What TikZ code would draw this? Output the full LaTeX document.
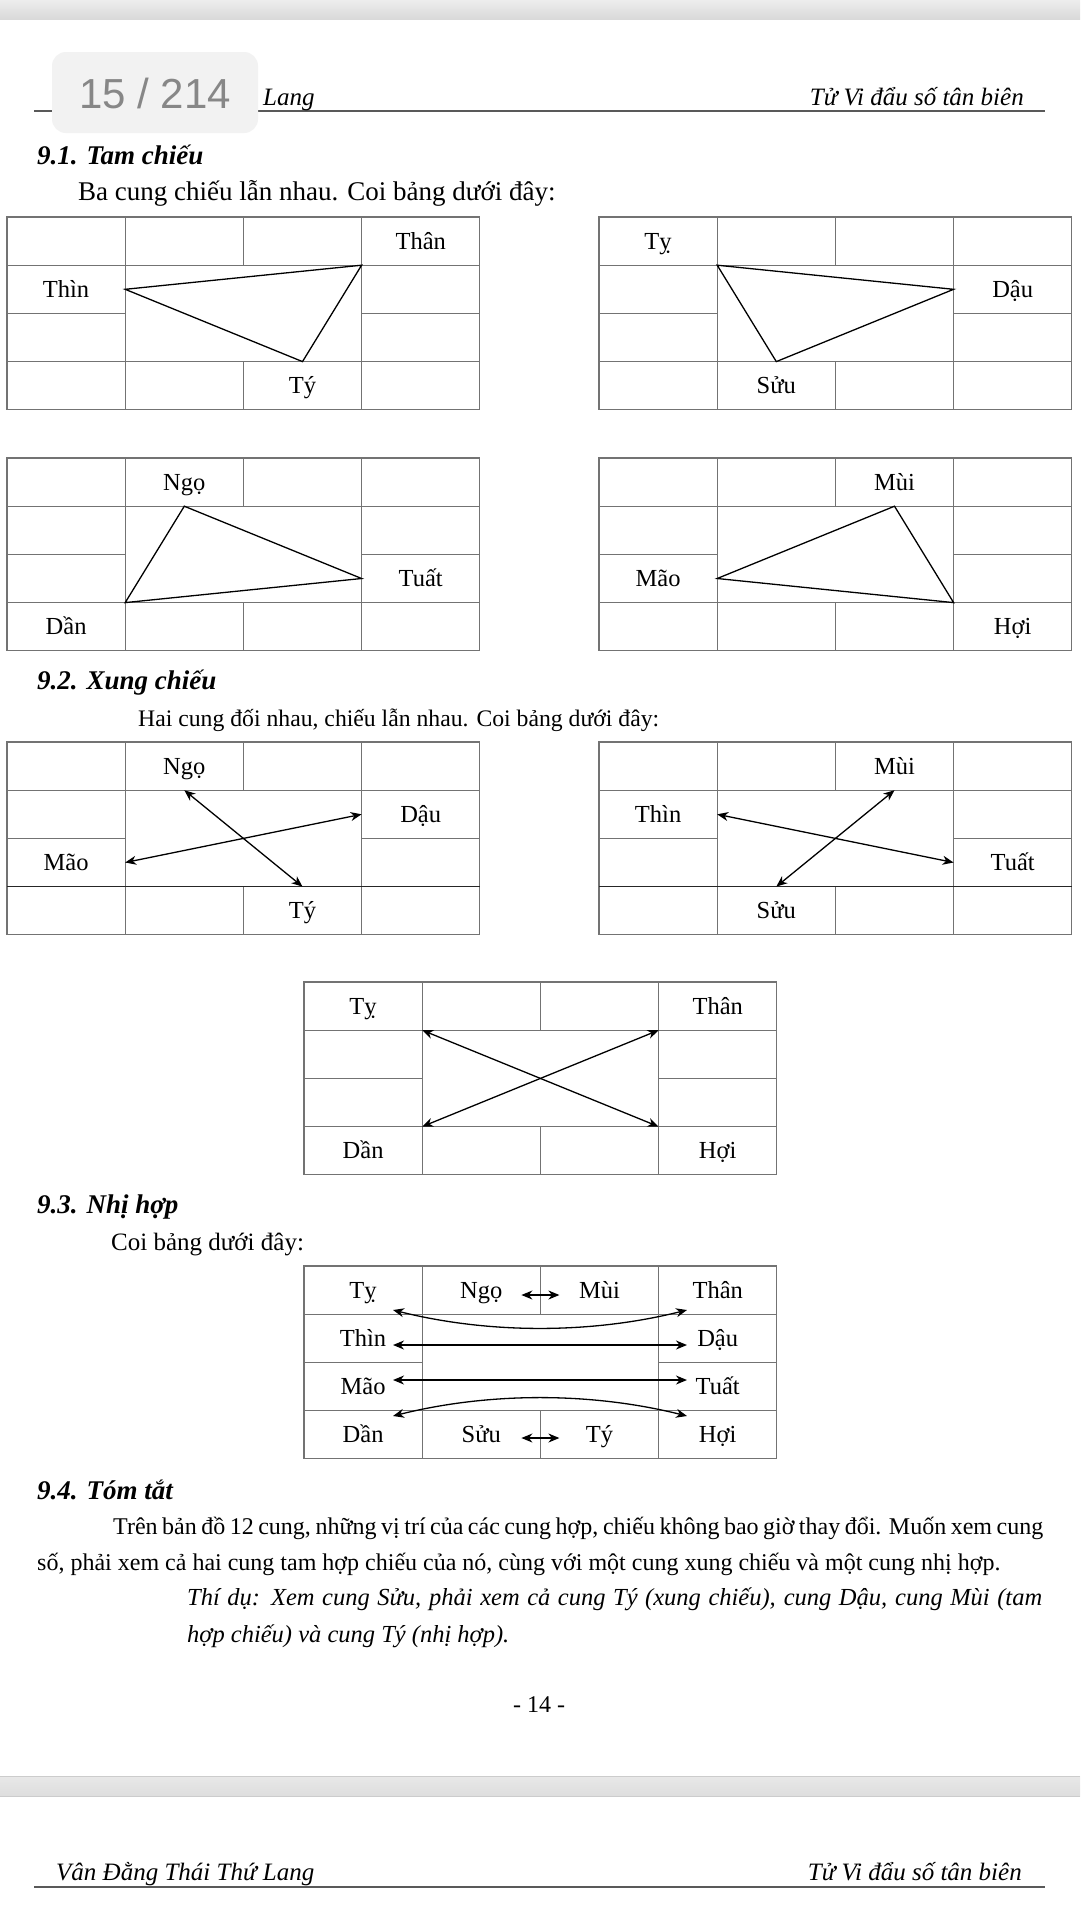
\documentclass[tikz,border=0pt]{standalone}
\usepackage{fontspec}
\setmainfont{Liberation Serif}
\newfontfamily\badgefont{Liberation Sans}
\usetikzlibrary{arrows.meta}
\newcommand{\palace}[4]{%
\begin{scope}[shift={(#1,#2)}]
 \def\cw{118.2}\def\rh{48.2}
 \draw[gridline] (0,0) rectangle ({4*\cw},{4*\rh});
 \draw[gridline] (0,\rh) -- ({4*\cw},\rh) (0,{3*\rh}) -- ({4*\cw},{3*\rh})
   (\cw,0) -- (\cw,{4*\rh}) ({3*\cw},0) -- ({3*\cw},{4*\rh})
   (0,{2*\rh}) -- (\cw,{2*\rh}) ({3*\cw},{2*\rh}) -- ({4*\cw},{2*\rh})
   ({2*\cw},0) -- ({2*\cw},\rh) ({2*\cw},{3*\rh}) -- ({2*\cw},{4*\rh});
 \foreach \r in {1,...,4}{\foreach \c in {1,...,4}{\coordinate (#3-\r\c) at ({(\c-0.5)*\cw},{(\r-0.5)*\rh});}}
 #4
\end{scope}}
\begin{document}
\begin{tikzpicture}[x=1pt,y=-1pt,
  gridline/.style={draw=black!55, line width=1.3pt},
  tri/.style={draw=black, line width=1.3pt, line join=miter},
  dbl/.style={draw=black, line width=1.3pt, {Stealth[length=11pt,width=9pt,inset=3.5pt]}-{Stealth[length=11pt,width=9pt,inset=3.5pt]}},
  lbl/.style={font=\fontsize{24.5}{27}\selectfont, inner sep=0pt, text height=16pt, text depth=0pt},
  body/.style={font=\fontsize{24}{28}\selectfont, inner sep=0pt, anchor=base west},
  head/.style={font=\fontsize{27}{31}\selectfont\bfseries\itshape, inner sep=0pt, anchor=base west},
  pagehead/.style={font=\fontsize{25}{28}\selectfont\itshape, inner sep=0pt},
]
\useasboundingbox (0,0) rectangle (1080,1920);
\fill[white] (0,0) rectangle (1080,1920);
% top and bottom grey bands
\shade[top color=black!7, bottom color=black!15] (0,0) rectangle (1080,19);
\shade[top color=black!9, bottom color=black!13] (0,1776) rectangle (1080,1796);
\draw[black!20, line width=0.8pt] (0,1776) -- (1080,1776) (0,1796) -- (1080,1796);
% header
\draw[black!65, line width=1.6pt] (34,111) -- (1045,111);
\node[pagehead, anchor=base west] (hl) at (263,105) {Lang};
\node[pagehead, anchor=base east] (hr) at (1024,105) {Tử Vi đẩu số tân biên};
\fill[black!5, rounded corners=14pt] (52,52) rectangle (258,133);
\node[font=\badgefont\fontsize{42}{46}\selectfont, text=black!47, anchor=base] (badge) at (155,108) {15 / 214};
% 9.1
\node[head] (h1) at (37,164) {9.1. Tam chiếu};
\node[body, font=\fontsize{27}{31}\selectfont] (t1) at (78,200) {Ba cung chiếu lẫn nhau. Coi bảng dưới đây:};
\palace{7}{217}{A}{
 \node[lbl] (A-than) at (A-14) {Thân};
 \node[lbl] (A-thin) at (A-21) {Thìn};
 \node[lbl] (A-ty) at (A-43) {Tý};
 \coordinate (A-p) at (\cw,{1.5*\rh});
 \coordinate (A-q) at ({3*\cw},\rh);
 \coordinate (A-s) at ({2.5*\cw},{3*\rh});
 \draw[tri] (A-p) -- (A-q) -- (A-s) -- cycle;
}
\palace{599}{217}{B}{
 \node[lbl] (B-ty) at (B-11) {Tỵ};
 \node[lbl] (B-dau) at (B-24) {Dậu};
 \node[lbl] (B-suu) at (B-42) {Sửu};
 \coordinate (B-p) at (\cw,\rh);
 \coordinate (B-q) at ({3*\cw},{1.5*\rh});
 \coordinate (B-s) at ({1.5*\cw},{3*\rh});
 \draw[tri] (B-p) -- (B-q) -- (B-s) -- cycle;
}
\palace{7}{458}{C}{
 \node[lbl] (C-ngo) at (C-12) {Ngọ};
 \node[lbl] (C-tuat) at (C-34) {Tuất};
 \node[lbl] (C-dan) at (C-41) {Dần};
 \coordinate (C-p) at ({1.5*\cw},\rh);
 \coordinate (C-q) at ({3*\cw},{2.5*\rh});
 \coordinate (C-s) at (\cw,{3*\rh});
 \draw[tri] (C-p) -- (C-q) -- (C-s) -- cycle;
}
\palace{599}{458}{D}{
 \node[lbl] (D-mui) at (D-13) {Mùi};
 \node[lbl] (D-mao) at (D-31) {Mão};
 \node[lbl] (D-hoi) at (D-44) {Hợi};
 \coordinate (D-p) at ({2.5*\cw},\rh);
 \coordinate (D-q) at ({3*\cw},{3*\rh});
 \coordinate (D-s) at (\cw,{2.5*\rh});
 \draw[tri] (D-p) -- (D-q) -- (D-s) -- cycle;
}
% 9.2
\node[head] (h2) at (37,689) {9.2. Xung chiếu};
\node[body, font=\fontsize{23.7}{28}\selectfont] (t2) at (138,726) {Hai cung đối nhau, chiếu lẫn nhau. Coi bảng dưới đây:};
\palace{7}{742}{E}{
 \draw[black!85, line width=1.3pt] (0,{3*\rh}) -- ({4*\cw},{3*\rh});
 \node[lbl] (E-ngo) at (E-12) {Ngọ};
 \node[lbl] (E-dau) at (E-24) {Dậu};
 \node[lbl] (E-mao) at (E-31) {Mão};
 \node[lbl] (E-ty) at (E-43) {Tý};
 \coordinate (E-p) at ({1.5*\cw},\rh);
 \coordinate (E-q) at ({2.5*\cw},{3*\rh});
 \coordinate (E-r) at (\cw,{2.5*\rh});
 \coordinate (E-s) at ({3*\cw},{1.5*\rh});
 \draw[dbl] (E-p) -- (E-q);
 \draw[dbl] (E-r) -- (E-s);
}
\palace{599}{742}{F}{
 \draw[black!85, line width=1.3pt] (0,{3*\rh}) -- ({4*\cw},{3*\rh});
 \node[lbl] (F-mui) at (F-13) {Mùi};
 \node[lbl] (F-thin) at (F-21) {Thìn};
 \node[lbl] (F-tuat) at (F-34) {Tuất};
 \node[lbl] (F-suu) at (F-42) {Sửu};
 \coordinate (F-p) at (\cw,{1.5*\rh});
 \coordinate (F-q) at ({3*\cw},{2.5*\rh});
 \coordinate (F-r) at ({2.5*\cw},\rh);
 \coordinate (F-s) at ({1.5*\cw},{3*\rh});
 \draw[dbl] (F-p) -- (F-q);
 \draw[dbl] (F-r) -- (F-s);
}
\palace{304}{982}{G}{
 \node[lbl] (G-ty) at (G-11) {Tỵ};
 \node[lbl] (G-than) at (G-14) {Thân};
 \node[lbl] (G-dan) at (G-41) {Dần};
 \node[lbl] (G-hoi) at (G-44) {Hợi};
 \coordinate (G-p) at (\cw,\rh);
 \coordinate (G-q) at ({3*\cw},{3*\rh});
 \coordinate (G-r) at ({3*\cw},\rh);
 \coordinate (G-s) at (\cw,{3*\rh});
 \draw[dbl] (G-p) -- (G-q);
 \draw[dbl] (G-r) -- (G-s);
}
% 9.3
\node[head] (h3) at (37,1213) {9.3. Nhị hợp};
\node[body, font=\fontsize{25}{29}\selectfont] (t3) at (111,1250) {Coi bảng dưới đây:};
\palace{304}{1266}{H}{
 \node[lbl] (H-ty) at (H-11) {Tỵ};
 \node[lbl] (H-ngo) at (H-12) {Ngọ};
 \node[lbl] (H-mui) at (H-13) {Mùi};
 \node[lbl] (H-than) at (H-14) {Thân};
 \node[lbl] (H-thin) at (H-21) {Thìn};
 \node[lbl] (H-dau) at (H-24) {Dậu};
 \node[lbl] (H-mao) at (H-31) {Mão};
 \node[lbl] (H-tuat) at (H-34) {Tuất};
 \node[lbl] (H-dan) at (H-41) {Dần};
 \node[lbl] (H-suu) at (H-42) {Sửu};
 \node[lbl] (H-tyy) at (H-43) {Tý};
 \node[lbl] (H-hoi) at (H-44) {Hợi};
 \coordinate (H-m1) at ({2*\cw-19},29);
 \coordinate (H-m2) at ({2*\cw+19},29);
 \coordinate (H-n1) at ({2*\cw-19},172);
 \coordinate (H-n2) at ({2*\cw+19},172);
 \coordinate (H-a1) at (89,44);
 \coordinate (H-a2) at (383,44);
 \coordinate (H-b1) at (89,79);
 \coordinate (H-b2) at (383,79);
 \coordinate (H-c1) at (89,114);
 \coordinate (H-c2) at (383,114);
 \coordinate (H-d1) at (89,150);
 \coordinate (H-d2) at (383,150);
 \draw[dbl] (H-m1) -- (H-m2);
 \draw[dbl] (H-n1) -- (H-n2);
 \draw[dbl] (H-a1) .. controls (185,68) and (287,68) .. (H-a2);
 \draw[dbl] (H-b1) -- (H-b2);
 \draw[dbl] (H-c1) -- (H-c2);
 \draw[dbl] (H-d1) .. controls (185,126) and (287,126) .. (H-d2);
}
% 9.4
\node[head] (h4) at (37,1499) {9.4. Tóm tắt};
\node[body] (p1) at (113,1534) {\makebox[930pt][s]{Trên bản đồ 12 cung, những vị trí của các cung hợp, chiếu không bao giờ thay đổi. Muốn xem cung}};
\node[body] (p2) at (37,1570) {số, phải xem cả hai cung tam hợp chiếu của nó, cùng với một cung xung chiếu và một cung nhị hợp.};
\node[body, font=\fontsize{24.5}{28}\selectfont\itshape] (p3) at (187,1605) {\makebox[855pt][s]{Thí dụ: Xem cung Sửu, phải xem cả cung Tý (xung chiếu), cung Dậu, cung Mùi (tam}};
\node[body, font=\fontsize{24.5}{28}\selectfont\itshape] (p4) at (187,1642) {hợp chiếu) và cung Tý (nhị hợp).};
\node[body, anchor=base] (pg) at (539,1712) {- 14 -};
% footer
\node[pagehead, anchor=base west] (fl) at (56,1880) {Vân Đằng Thái Thứ Lang};
\node[pagehead, anchor=base east] (fr) at (1022,1880) {Tử Vi đẩu số tân biên};
\draw[black!65, line width=1.6pt] (34,1887) -- (1045,1887);
\end{tikzpicture}
\end{document}
